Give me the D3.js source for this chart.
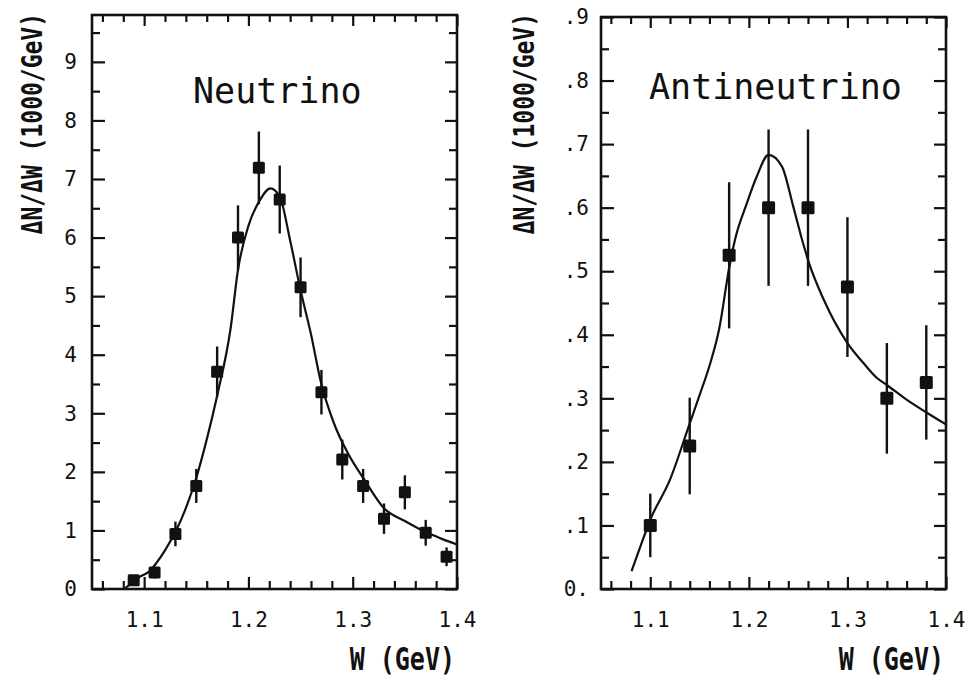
<!DOCTYPE html>
<html>
<head>
<meta charset="utf-8">
<script src="https://cdn.jsdelivr.net/npm/d3@7"></script>
<style>
  body { margin: 0; background: #fff; }
  svg { display: block; }
  text { fill: #111; }
</style>
</head>
<body>
<svg id="chart" width="973" height="680"></svg>
<script>
// neutrino points
var nuW = [1.09, 1.11, 1.13, 1.15, 1.17, 1.19, 1.21, 1.23, 1.25, 1.27, 1.29, 1.31, 1.33, 1.35, 1.37, 1.39];
var nuN = [0.15, 0.28, 0.94, 1.76, 3.71, 6.0, 7.19, 6.65, 5.15, 3.36, 2.21, 1.76, 1.2, 1.65, 0.96, 0.55];
var nuErr = [0.08, 0.1, 0.21, 0.29, 0.43, 0.55, 0.62, 0.58, 0.51, 0.38, 0.34, 0.29, 0.26, 0.29, 0.22, 0.16];
// fit curve
var nuFitW = [1.081, 1.09, 1.096, 1.105, 1.112, 1.12, 1.131, 1.14, 1.15, 1.16, 1.17, 1.183, 1.19, 1.2, 1.211, 1.221, 1.23, 1.24, 1.25, 1.26, 1.269, 1.282, 1.295, 1.311, 1.33, 1.35, 1.369, 1.385, 1.40];
var nuFitN = [0, 0.13, 0.21, 0.3, 0.45, 0.66, 1.01, 1.38, 1.9, 2.55, 3.3, 4.46, 5.45, 6.2, 6.64, 6.84, 6.7, 5.95, 5.1, 4.35, 3.57, 2.83, 2.33, 1.87, 1.38, 1.16, 0.98, 0.86, 0.76];

// antineutrino points
var anuW = [1.10, 1.14, 1.18, 1.22, 1.26, 1.30, 1.34, 1.38];
var anuN = [0.10, 0.225, 0.525, 0.60, 0.60, 0.475, 0.30, 0.325];
var anuErr = [0.05, 0.076, 0.115, 0.123, 0.123, 0.11, 0.087, 0.09];
var anuFitW = [1.081, 1.09, 1.10, 1.12, 1.139, 1.15, 1.161, 1.17, 1.18, 1.186, 1.198, 1.208, 1.22, 1.2335, 1.245, 1.255, 1.261, 1.276, 1.30, 1.316, 1.33, 1.34, 1.36, 1.381, 1.40];
var anuFitN = [0.028, 0.067, 0.109, 0.172, 0.256, 0.305, 0.356, 0.41, 0.505, 0.55, 0.607, 0.649, 0.683, 0.665, 0.602, 0.544, 0.513, 0.455, 0.387, 0.356, 0.332, 0.321, 0.298, 0.277, 0.259];

var xMajor = [1.1, 1.2, 1.3, 1.4];
var xMinor = [1.06, 1.08, 1.12, 1.14, 1.16, 1.18, 1.22, 1.24, 1.26, 1.28, 1.32, 1.34, 1.36, 1.38];
var xLabels = ["1.1", "1.2", "1.3", "1.4"];

var nuMajor = [0, 1, 2, 3, 4, 5, 6, 7, 8, 9];
var nuMinor = [0.5, 1.5, 2.5, 3.5, 4.5, 5.5, 6.5, 7.5, 8.5, 9.5];
var nuLabels = ["0", "1", "2", "3", "4", "5", "6", "7", "8", "9"];

var anuMajor = [0, 0.1, 0.2, 0.3, 0.4, 0.5, 0.6, 0.7, 0.8, 0.9];
var anuMinor = [0.05, 0.15, 0.25, 0.35, 0.45, 0.55, 0.65, 0.75, 0.85];
var anuLabels = ["0.", ".1", ".2", ".3", ".4", ".5", ".6", ".7", ".8", ".9"];

var ink = "#111";
var mono = "'DejaVu Sans Mono', monospace";
var svg = d3.select("#chart");

function panel(p) {
  var x = d3.scaleLinear().domain([1.05, 1.4]).range([p.left, p.right]);
  var y = d3.scaleLinear().domain([0, p.ymax]).range([p.bottom, p.top]);
  var g = svg.append("g");

  function axis(gen, tx, ty) {
    var a = g.append("g").attr("transform", "translate(" + tx + "," + ty + ")").call(gen);
    a.select(".domain").remove();
    a.selectAll("line").attr("stroke", ink).attr("stroke-width", 2.2);
    a.selectAll("text").attr("font-family", mono).attr("font-size", 21).attr("fill", ink);
    return a;
  }

  // bottom / top
  axis(d3.axisBottom(x).tickValues(xMajor).tickSize(-12).tickPadding(23)
    .tickFormat((d, i) => xLabels[i]), 0, p.bottom);
  axis(d3.axisBottom(x).tickValues(xMinor).tickSize(-8).tickFormat(""), 0, p.bottom);
  axis(d3.axisTop(x).tickValues(xMajor).tickSize(-11).tickFormat(""), 0, p.top);
  axis(d3.axisTop(x).tickValues(xMinor).tickSize(-7).tickFormat(""), 0, p.top);
  // left / right
  axis(d3.axisLeft(y).tickValues(p.major).tickSize(-13).tickPadding(p.pad)
    .tickFormat((d, i) => p.labels[i]), p.left, 0);
  axis(d3.axisLeft(y).tickValues(p.minor).tickSize(-8).tickFormat(""), p.left, 0);
  axis(d3.axisRight(y).tickValues(p.major).tickSize(-12).tickFormat(""), p.right, 0);
  axis(d3.axisRight(y).tickValues(p.minor).tickSize(-8).tickFormat(""), p.right, 0);

  g.append("rect")
    .attr("x", p.left).attr("y", p.top)
    .attr("width", p.right - p.left).attr("height", p.bottom - p.top)
    .attr("fill", "none").attr("stroke", ink).attr("stroke-width", 2.6);

  // fit curve
  var line = d3.line()
    .x(d => x(d[0]))
    .y(d => y(d[1]))
    .curve(d3.curveMonotoneX);
  g.append("path")
    .datum(d3.zip(p.fitW, p.fitN))
    .attr("d", line)
    .attr("fill", "none").attr("stroke", ink).attr("stroke-width", 2.2);

  // error bars
  var pts = p.w.map((w, i) => ({w: w, n: p.n[i], e: p.err[i]}));
  g.selectAll(".err").data(pts).enter().append("line")
    .attr("x1", d => x(d.w)).attr("x2", d => x(d.w))
    .attr("y1", d => y(d.n - d.e)).attr("y2", d => y(d.n + d.e))
    .attr("stroke", ink).attr("stroke-width", 2.4);
  g.selectAll(".pt").data(pts).enter().append("rect")
    .attr("x", d => x(d.w) - p.sq / 2).attr("y", d => y(d.n) - p.sq / 2)
    .attr("width", p.sq).attr("height", p.sq)
    .attr("rx", 1.5)
    .attr("fill", ink);

  // titles and axis names
  g.append("text")
    .attr("x", p.titleX).attr("y", p.titleY)
    .attr("font-family", mono).attr("font-size", 35)
    .text(p.title);
  // condensed bold look: narrow font size, stretched vertically
  g.append("text")
    .attr("transform", "translate(" + (p.right - 2) + ",670) scale(1,1.25)")
    .attr("text-anchor", "end")
    .attr("font-family", mono).attr("font-weight", "bold").attr("font-size", 25)
    .text("W (GeV)");
  g.append("text")
    .attr("transform", "translate(" + p.ylabX + ",13) rotate(-90) scale(1,1.25)")
    .attr("text-anchor", "end")
    .attr("font-family", mono).attr("font-weight", "bold").attr("font-size", 23)
    .text("\u0394N/\u0394W (1000/GeV)");
}

panel({
  left: 92, right: 457, top: 15, bottom: 589, ymax: 9.8,
  major: nuMajor, minor: nuMinor, labels: nuLabels, pad: 15,
  w: nuW, n: nuN, err: nuErr, fitW: nuFitW, fitN: nuFitN, sq: 12,
  title: "Neutrino", titleX: 193, titleY: 103, ylabX: 42
});

panel({
  left: 601, right: 946, top: 17, bottom: 589, ymax: 0.9,
  major: anuMajor, minor: anuMinor, labels: anuLabels, pad: 12,
  w: anuW, n: anuN, err: anuErr, fitW: anuFitW, fitN: anuFitN, sq: 13,
  title: "Antineutrino", titleX: 649, titleY: 99, ylabX: 534
});
</script>
</body>
</html>
